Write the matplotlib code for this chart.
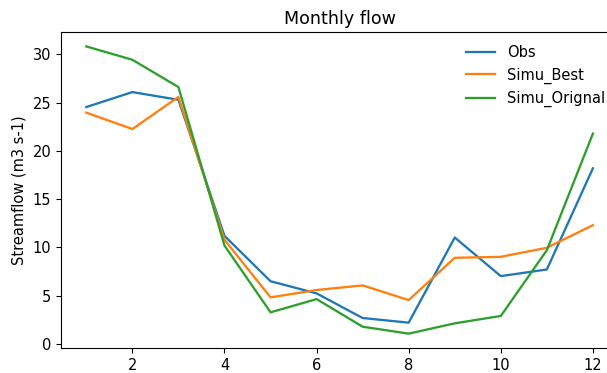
import matplotlib
matplotlib.use("Agg")
import matplotlib.pyplot as plt

# monthly values
months = list(range(1, 13))
obs = [24.55, 26.1, 25.3, 11.2, 6.5, 5.24, 2.69, 2.21, 11.03, 7.03, 7.72, 18.2]
simu_best = [23.97, 22.27, 25.6, 10.8, 4.83, 5.59, 6.07, 4.55, 8.93, 9.03, 9.97, 12.31]
simu_orig = [30.83, 29.45, 26.62, 10.2, 3.28, 4.65, 1.79, 1.07, 2.14, 2.90, 9.72, 21.8]

plt.rcParams["font.size"] = 10.5
plt.rcParams["lines.linewidth"] = 1.65

fig = plt.figure(figsize=(6.07, 3.73), dpi=100)
# the reference is cropped on the right, so the axes run past the figure edge
ax = fig.add_axes([0.1005, 0.067, 0.918, 0.847])

ax.plot(months, obs, label="Obs")
ax.plot(months, simu_best, label="Simu_Best")
ax.plot(months, simu_orig, label="Simu_Orignal")

ax.set_title("Monthly flow")
ax.set_ylabel("Streamflow (m3 s-1)")
ax.legend(frameon=False, loc="upper right", bbox_to_anchor=(1.0, 1.0))

fig.savefig("out.png", dpi=100)
